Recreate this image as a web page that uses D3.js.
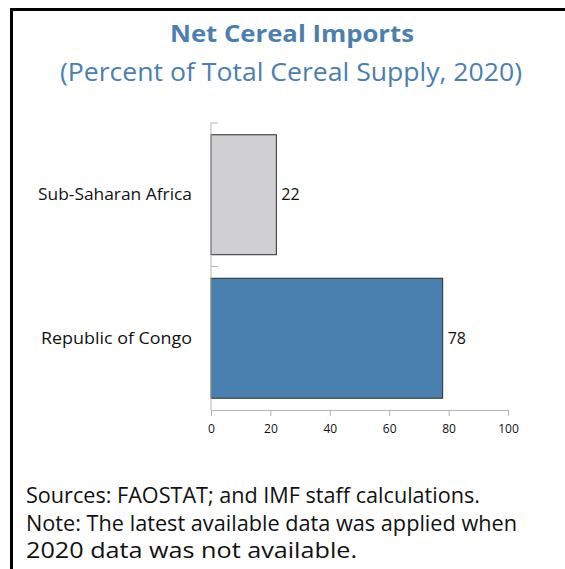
<!DOCTYPE html>
<html>
<head>
<meta charset="utf-8">
<script src="https://cdn.jsdelivr.net/npm/d3@7"></script>
<style>
  html, body { margin: 0; padding: 0; background: #fff; }
  svg { display: block; font-family: "Open Sans", "Noto Sans", sans-serif; }
</style>
</head>
<body>
<svg id="chart" width="565" height="569"></svg>
<script>
// Net cereal imports as a share of total cereal supply, 2020
const categories = ["Sub-Saharan Africa", "Republic of Congo"];
const values = [22, 78];
const barColors = ["#d0cfd1", "#4a80b0"];
const xTicks = [0, 20, 40, 60, 80, 100];
const titleText = "Net Cereal Imports";
const subtitleText = "(Percent of Total Cereal Supply, 2020)";
const footnotes = [
  "Sources: FAOSTAT; and IMF staff calculations.",
  "Note: The latest available data was applied when",
  "2020 data was not available."
];

const svg = d3.select("#chart");
const titleColor = "#4a7fb0";

// frame: top and left rule
svg.append("line").attr("x1", 11.5).attr("x2", 565).attr("y1", 9.5).attr("y2", 9.5)
  .attr("stroke", "#000").attr("stroke-width", 3);
svg.append("line").attr("x1", 11.5).attr("x2", 11.5).attr("y1", 8).attr("y2", 569)
  .attr("stroke", "#000").attr("stroke-width", 3);

// titles
svg.append("text").attr("x", 292).attr("y", 42).attr("text-anchor", "middle")
  .attr("font-size", 24).attr("font-weight", 700).attr("fill", titleColor)
  .attr("textLength", 244).attr("lengthAdjust", "spacingAndGlyphs")
  .text(titleText);
svg.append("text").attr("x", 291).attr("y", 81).attr("text-anchor", "middle")
  .attr("font-size", 25).attr("fill", titleColor)
  .attr("textLength", 462).attr("lengthAdjust", "spacingAndGlyphs")
  .text(subtitleText);

// scales
const x = d3.scaleLinear().domain([0, 100]).range([211, 508]);
const y = d3.scaleBand().domain(categories).range([123, 410])
  .paddingInner(0.164).paddingOuter(0.082);

const axisColor = "#b4b4b4";

// bars
svg.append("g").selectAll("rect")
  .data(categories)
  .join("rect")
  .attr("x", x(0))
  .attr("y", d => y(d))
  .attr("width", (d, i) => x(values[i]) - x(0))
  .attr("height", y.bandwidth())
  .attr("fill", (d, i) => barColors[i])
  .attr("stroke", "#2b2b2b")
  .attr("stroke-width", 1);

// x axis
const xAxis = svg.append("g").attr("transform", "translate(0,410)")
  .call(d3.axisBottom(x).tickValues(xTicks).tickSize(6).tickSizeOuter(0).tickPadding(8));
xAxis.select(".domain").attr("stroke", axisColor);
xAxis.selectAll(".tick line").attr("stroke", axisColor);
xAxis.selectAll(".tick text").attr("font-size", 12).attr("fill", "#111")
  .attr("font-family", "'Open Sans', sans-serif");

// y axis: boundary ticks between categories, pointing into the plot
const yAxisG = svg.append("g").attr("transform", "translate(211,0)");
yAxisG.append("line").attr("x1", 0).attr("x2", 0).attr("y1", 123).attr("y2", 410)
  .attr("stroke", axisColor);
const bounds = [y.range()[0], y.range()[0] + y.step()];
yAxisG.selectAll(".bound").data(bounds).join("line")
  .attr("x1", 0).attr("x2", 7).attr("y1", d => d).attr("y2", d => d)
  .attr("stroke", axisColor);

// category labels
const labelWidths = [154, 151];
svg.append("g").selectAll("text").data(categories).join("text")
  .attr("x", 192)
  .attr("y", d => y(d) + y.bandwidth() / 2)
  .attr("dy", "0.35em")
  .attr("text-anchor", "end")
  .attr("font-size", 16)
  .attr("fill", "#111")
  .attr("textLength", (d, i) => labelWidths[i])
  .attr("lengthAdjust", "spacingAndGlyphs")
  .text(d => d);

// value labels
svg.append("g").selectAll("text").data(categories).join("text")
  .attr("x", (d, i) => x(values[i]) + 5)
  .attr("y", d => y(d) + y.bandwidth() / 2)
  .attr("dy", "0.35em")
  .attr("font-size", 16)
  .attr("fill", "#111")
  .text((d, i) => values[i]);

// footnotes
const noteWidths = [454, 491, 331];
svg.append("g").selectAll("text").data(footnotes).join("text")
  .attr("x", 26)
  .attr("y", (d, i) => 503 + i * 27.5)
  .attr("font-size", 21)
  .attr("fill", "#111")
  .attr("textLength", (d, i) => noteWidths[i])
  .attr("lengthAdjust", "spacingAndGlyphs")
  .text(d => d);
</script>
</body>
</html>
